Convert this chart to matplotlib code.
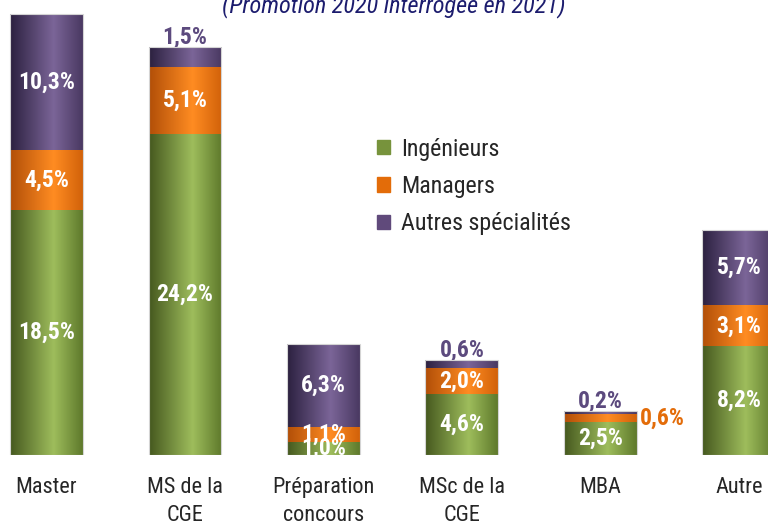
import numpy as np
import matplotlib.pyplot as plt
from matplotlib.patches import Patch
from matplotlib.colors import to_rgb

categories = ["Master", "MS de la\nCGE", "Préparation\nconcours", "MSc de la\nCGE", "MBA", "Autre"]
series = ["Ingénieurs", "Managers", "Autres spécialités"]
ingenieurs = [18.5, 24.2, 1.0, 4.6, 2.5, 8.2]
managers = [4.5, 5.1, 1.1, 2.0, 0.6, 3.1]
autres = [10.3, 1.5, 6.3, 0.6, 0.2, 5.7]
values = [ingenieurs, managers, autres]

# where each value label goes: in = inside the segment, above = above the bar, right = beside it
placement = {(1, 2): "above", (3, 2): "above", (4, 2): "above", (4, 1): "right"}

# dark edge, light highlight, right edge (cylinder-like shading)
shades = [("#46591f", "#9ebd5c", "#5f7a2c"),
          ("#b24f08", "#ff8c22", "#d2620a"),
          ("#2c2140", "#7b6598", "#4a3962")]
legend_colors = ["#77933c", "#e36c09", "#604a7b"]
label_colors = ["#77933c", "#e36c09", "#5c4a7e"]

plt.rcParams["font.family"] = ["Roboto Condensed", "DejaVu Sans"]

fig = plt.figure(figsize=(7.68, 5.21), dpi=100)
ax = fig.add_axes([0, 66 / 521, 1, 455 / 521])

x = np.arange(len(categories))
w = 0.527


def gradient(stops, n=64):
    t = np.linspace(0, 1, n)
    c0, c1, c2 = [np.array(to_rgb(s)) for s in stops]
    out = np.zeros((1, n, 3))
    for k, tt in enumerate(t):
        if tt < 0.6:
            f = tt / 0.6
            out[0, k] = c0 * (1 - f) + c1 * f
        else:
            f = (tt - 0.6) / 0.4
            out[0, k] = c1 * (1 - f) + c2 * f
    return out


lab = dict(fontsize=17, fontweight="bold")
bottom = np.zeros(len(categories))
for s, vals in enumerate(values):
    bars = ax.bar(x, vals, w, bottom=bottom, color=legend_colors[s], linewidth=0, zorder=2)
    grad = gradient(shades[s])
    for p in bars:
        im = ax.imshow(grad, extent=(p.get_x(), p.get_x() + p.get_width(), p.get_y(), p.get_y() + p.get_height()),
                       aspect="auto", interpolation="bilinear", zorder=2.5)
        im.set_clip_path(p)
    for i, v in enumerate(vals):
        txt = f"{v:.1f}%".replace(".", ",")
        pos = placement.get((i, s), "in")
        top = bottom[i] + v
        if pos == "in":
            ax.text(x[i], bottom[i] + v / 2, txt, ha="center", va="center", color="white",
                    zorder=4, clip_on=True, **lab)
        elif pos == "above":
            ax.annotate(txt, (x[i], top), xytext=(0, 7), textcoords="offset points",
                        ha="center", va="center", color=label_colors[s], zorder=1, **lab)
        else:
            ax.annotate(txt, (x[i] + w / 2, bottom[i] + v / 2), xytext=(2, 0), textcoords="offset points",
                        ha="left", va="center", color=label_colors[s], zorder=4, **lab)
    bottom += np.array(vals)

ax.bar(x, bottom, w, fill=False, edgecolor="#d4d4d4", linewidth=0.8, zorder=3)

ax.set_xlim(-0.336, 5.21)
ax.set_ylim(0, 34.34)
ax.set_xticks(x)
ax.set_xticklabels(categories, fontsize=16, linespacing=1.4, color="#262626")
ax.tick_params(axis="x", length=0, pad=16)
ax.set_yticks([])
for sp in ax.spines.values():
    sp.set_visible(False)

handles = [Patch(color=c) for c in legend_colors]
leg = ax.legend(handles, series, loc="upper left", bbox_to_anchor=(355 / 768, 1 - 116 / 521),
                bbox_transform=fig.transFigure, frameon=False, fontsize=17.3,
                handlelength=0.55, handleheight=0.55, handletextpad=0.45, labelspacing=0.6)
for t in leg.get_texts():
    t.set_color("#262626")

fig.text(394 / 768, 1 - 12 / 521, "(Promotion 2020 interrogée en 2021)", ha="center", va="baseline",
         fontsize=17.5, style="italic", color="#1c1c6e")

fig.savefig("out.png", dpi=100)
